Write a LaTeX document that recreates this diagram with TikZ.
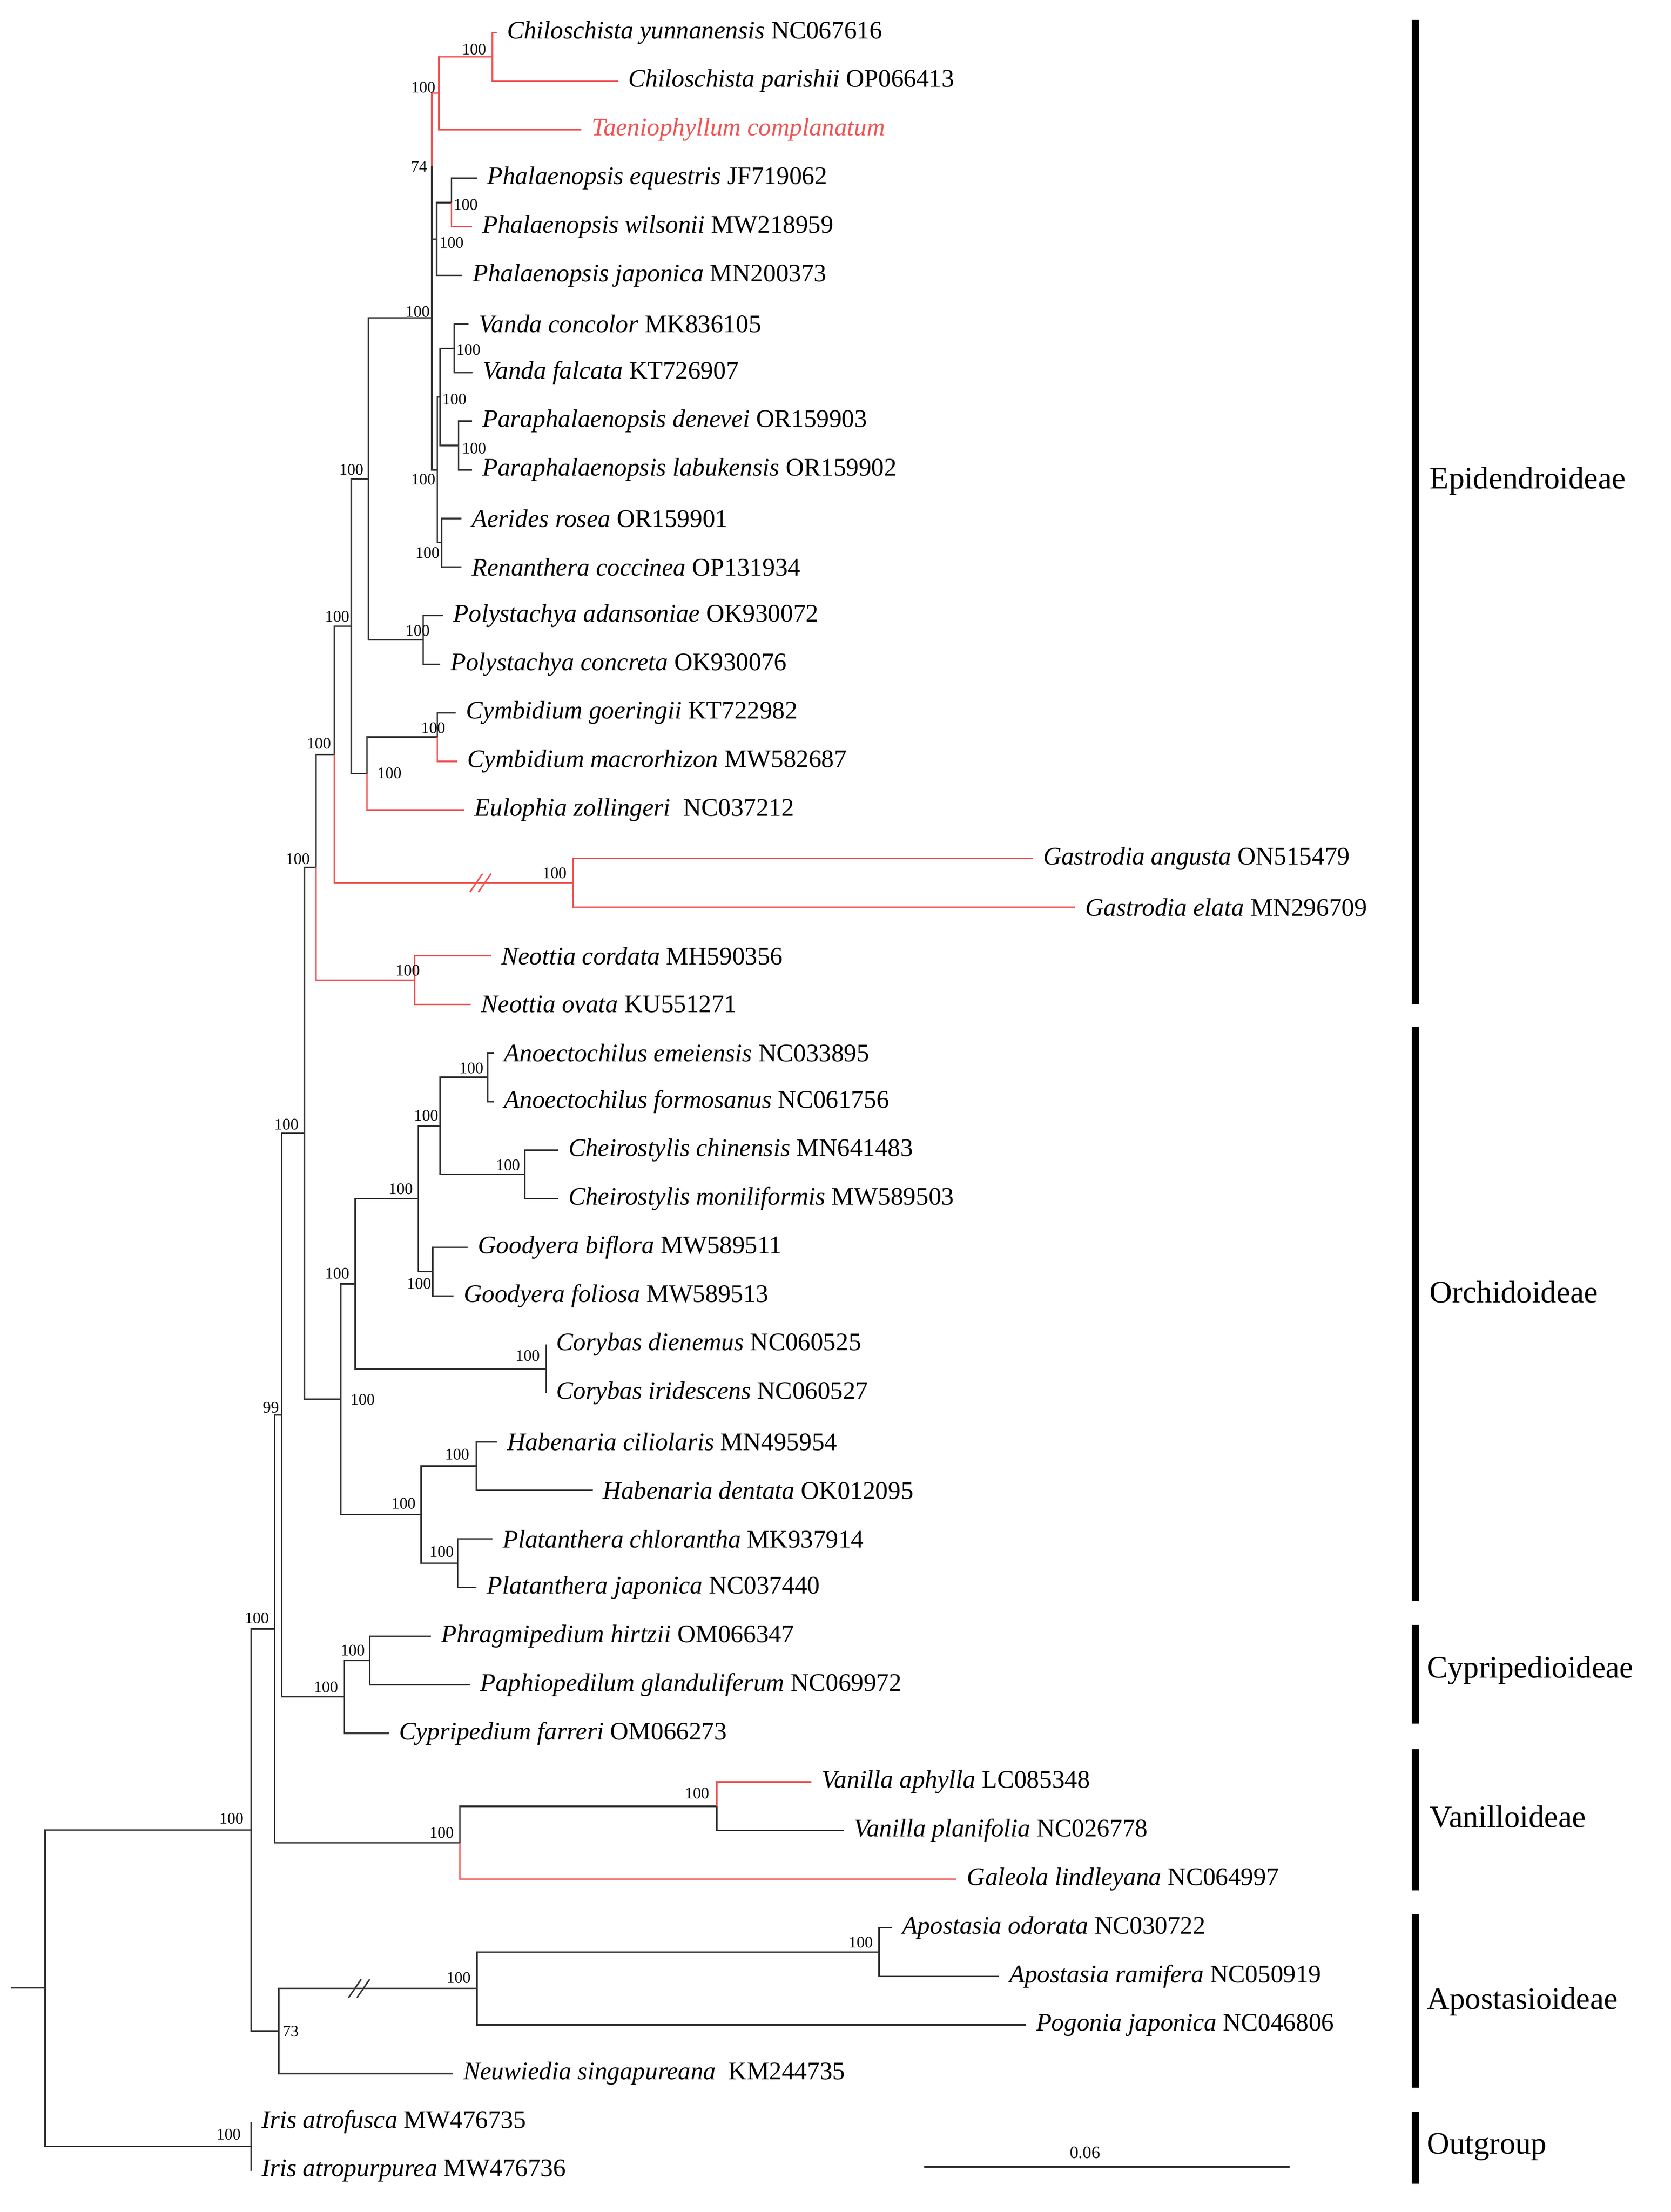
\documentclass[tikz,border=0pt]{standalone}
\usepackage{fontspec}
\setmainfont{Liberation Serif}
\usepackage{tikz}
\definecolor{hilite}{rgb}{0.94,0.33,0.33}
\tikzstyle{branch} = [line width=0.6pt, black!80]
\tikzstyle{hot} = [line width=0.6pt, hilite]
\tikzstyle{taxon} = [anchor=west, inner xsep=0.14cm, inner ysep=0pt, font=\fontsize{10.2}{12}\selectfont]
\tikzstyle{boot} = [inner sep=0pt, font=\fontsize{6.5}{7}\selectfont]
\tikzstyle{cladebar} = [line width=2.8pt, black]
\tikzstyle{clade} = [anchor=west, inner sep=0pt, font=\fontsize{12.6}{14}\selectfont]

\begin{document}
\begin{tikzpicture}[x=0.02cm, y=-0.689cm]
\useasboundingbox (0,-0.668) rectangle (1184,44.85);

% inner nodes
\coordinate (stub) at (7.7,40.24);
\coordinate (root) at (32,40.24);
\coordinate (N178) at (178,36.99);
\coordinate (IR) at (178,43.5);
\coordinate (N194) at (194.6,32.85);
\coordinate (N73) at (197.5,41.125);
\coordinate (N99) at (199.5,28.45);
\coordinate (EO) at (215.7,22.65);
\coordinate (N224) at (224,17.18);
\coordinate (N237) at (237,14.86);
\coordinate (N249) at (249,12.22);
\coordinate (N261) at (261,9.19);
\coordinate (TOP) at (306,5.875);
\coordinate (N74) at (306,2.75);
\coordinate (CT) at (311,1.25);
\coordinate (C) at (349,0.5);
\coordinate (PH) at (309.5,4.25);
\coordinate (PEW) at (320,3.5);
\coordinate (VPAR) at (310,9);
\coordinate (VP) at (312,7.5);
\coordinate (VA) at (322,6.5);
\coordinate (PA) at (325,8.5);
\coordinate (AR) at (313,10.5);
\coordinate (PO) at (300,12.5);
\coordinate (CE) at (260,15.25);
\coordinate (CY) at (310,14.5);
\coordinate (GA) at (406,17.5);
\coordinate (NE) at (294,19.5);
\coordinate (ORC) at (241.4,28.125);
\coordinate (ACGC) at (251.8,25.75);
\coordinate (ACG) at (296.4,24);
\coordinate (AC) at (312,22.5);
\coordinate (AN) at (345.6,21.5);
\coordinate (CH) at (372,23.5);
\coordinate (GO) at (306.7,25.5);
\coordinate (CO) at (387,27.5);
\coordinate (HP) at (298.5,30.5);
\coordinate (HA) at (337.5,29.5);
\coordinate (PL) at (324.3,31.5);
\coordinate (CPA) at (244,34.25);
\coordinate (CP) at (262,33.5);
\coordinate (VG) at (326,37.25);
\coordinate (VN) at (508,36.5);
\coordinate (APO) at (338,40.25);
\coordinate (AP) at (623,39.5);
\coordinate (gbreak) at (340,17.5);
\coordinate (abreak) at (254,40.25);

% taxa
\node (t0) [taxon] at (352,0) {\textit{Chiloschista yunnanensis} NC067616};
\node (t1) [taxon] at (438,1) {\textit{Chiloschista parishii} OP066413};
\node (t2) [taxon, text=hilite] at (412,2) {\textit{Taeniophyllum complanatum}};
\node (t3) [taxon] at (338,3) {\textit{Phalaenopsis equestris} JF719062};
\node (t4) [taxon] at (334.5,4) {\textit{Phalaenopsis wilsonii} MW218959};
\node (t5) [taxon] at (327.6,5) {\textit{Phalaenopsis japonica} MN200373};
\node (t6) [taxon] at (332,6) {\textit{Vanda concolor} MK836105};
\node (t7) [taxon] at (335,7) {\textit{Vanda falcata} KT726907};
\node (t8) [taxon] at (334.5,8) {\textit{Paraphalaenopsis denevei} OR159903};
\node (t9) [taxon] at (334.5,9) {\textit{Paraphalaenopsis labukensis} OR159902};
\node (t10) [taxon] at (327,10) {\textit{Aerides rosea} OR159901};
\node (t11) [taxon] at (327,11) {\textit{Renanthera coccinea} OP131934};
\node (t12) [taxon] at (314,12) {\textit{Polystachya adansoniae} OK930072};
\node (t13) [taxon] at (312,13) {\textit{Polystachya concreta} OK930076};
\node (t14) [taxon] at (323,14) {\textit{Cymbidium goeringii} KT722982};
\node (t15) [taxon] at (324,15) {\textit{Cymbidium macrorhizon} MW582687};
\node (t16) [taxon] at (329,16) {\textit{Eulophia zollingeri}\ \ NC037212};
\node (t17) [taxon] at (732,17) {\textit{Gastrodia angusta} ON515479};
\node (t18) [taxon] at (762,18) {\textit{Gastrodia elata} MN296709};
\node (t19) [taxon] at (348,19) {\textit{Neottia cordata} MH590356};
\node (t20) [taxon] at (333.7,20) {\textit{Neottia ovata} KU551271};
\node (t21) [taxon] at (350,21) {\textit{Anoectochilus emeiensis} NC033895};
\node (t22) [taxon] at (350,22) {\textit{Anoectochilus formosanus} NC061756};
\node (t23) [taxon] at (395.6,23) {\textit{Cheirostylis chinensis} MN641483};
\node (t24) [taxon] at (395.6,24) {\textit{Cheirostylis moniliformis} MW589503};
\node (t25) [taxon] at (331.5,25) {\textit{Goodyera biflora} MW589511};
\node (t26) [taxon] at (321.4,26) {\textit{Goodyera foliosa} MW589513};
\node (t27) [taxon] at (387,27) {\textit{Corybas dienemus} NC060525};
\node (t28) [taxon] at (387,28) {\textit{Corybas iridescens} NC060527};
\node (t29) [taxon] at (352,29) {\textit{Habenaria ciliolaris} MN495954};
\node (t30) [taxon] at (420,30) {\textit{Habenaria dentata} OK012095};
\node (t31) [taxon] at (349,31) {\textit{Platanthera chlorantha} MK937914};
\node (t32) [taxon] at (337.8,32) {\textit{Platanthera japonica} NC037440};
\node (t33) [taxon] at (305.5,33) {\textit{Phragmipedium hirtzii} OM066347};
\node (t34) [taxon] at (333,34) {\textit{Paphiopedilum glanduliferum} NC069972};
\node (t35) [taxon] at (275.5,35) {\textit{Cypripedium farreri} OM066273};
\node (t36) [taxon] at (575,36) {\textit{Vanilla aphylla} LC085348};
\node (t37) [taxon] at (598,37) {\textit{Vanilla planifolia} NC026778};
\node (t38) [taxon] at (678,38) {\textit{Galeola lindleyana} NC064997};
\node (t39) [taxon] at (632,39) {\textit{Apostasia odorata} NC030722};
\node (t40) [taxon] at (708,40) {\textit{Apostasia ramifera} NC050919};
\node (t41) [taxon] at (727,41) {\textit{Pogonia japonica} NC046806};
\node (t42) [taxon] at (321,42) {\textit{Neuwiedia singapureana}\ \ KM244735};
\node (t43) [taxon] at (178,43) {\textit{Iris atrofusca} MW476735};
\node (t44) [taxon] at (178,44) {\textit{Iris atropurpurea} MW476736};

% backbone
\draw [branch] (stub) -- (root);
\draw [branch] (root) |- (N178);
\draw [branch] (root) |- (IR);
\draw [branch] (N178) |- (N194);
\draw [branch] (N178) |- (N73);
\draw [branch] (N194) |- (N99);
\draw [branch] (N194) |- (VG);
\draw [branch] (N99) |- (EO);
\draw [branch] (N99) |- (CPA);
\draw [branch] (EO) |- (N224);
\draw [branch] (EO) |- (ORC);
% Epidendroideae
\draw [branch] (N224) |- (N237);
\draw [hot] (N224) |- (NE);
\draw [branch] (N237) |- (N249);
\draw [hot] (N237) |- (GA);
\draw [branch] (N249) |- (N261);
\draw [branch] (N249) |- (CE);
\draw [branch] (N261) |- (TOP);
\draw [branch] (N261) |- (PO);
\draw [branch] (TOP) |- (N74);
\draw [branch] (TOP) |- (VPAR);
\draw [hot] (N74) |- (CT);
\draw [branch] (N74) |- (PH);
\draw [hot] (CT) |- (C);
\draw [hot] (CT) |- (t2.west);
\draw [hot] (C) |- (t0.west);
\draw [hot] (C) |- (t1.west);
\draw [branch] (PH) |- (PEW);
\draw [branch] (PH) |- (t5.west);
\draw [branch] (PEW) |- (t3.west);
\draw [hot] (PEW) |- (t4.west);
\draw [branch] (VPAR) |- (VP);
\draw [branch] (VPAR) |- (AR);
\draw [branch] (VP) |- (VA);
\draw [branch] (VP) |- (PA);
\draw [branch] (VA) |- (t6.west);
\draw [branch] (VA) |- (t7.west);
\draw [branch] (PA) |- (t8.west);
\draw [branch] (PA) |- (t9.west);
\draw [branch] (AR) |- (t10.west);
\draw [branch] (AR) |- (t11.west);
\draw [branch] (PO) |- (t12.west);
\draw [branch] (PO) |- (t13.west);
\draw [branch] (CE) |- (CY);
\draw [hot] (CE) |- (t16.west);
\draw [branch] (CY) |- (t14.west);
\draw [hot] (CY) |- (t15.west);
\draw [hot] (GA) |- (t17.west);
\draw [hot] (GA) |- (t18.west);
\draw [hot] (NE) |- (t19.west);
\draw [hot] (NE) |- (t20.west);
\draw [hot] (gbreak) ++(-7,0.19) -- ++(9,-0.38);
\draw [hot] (gbreak) ++(-1,0.19) -- ++(9,-0.38);
% Orchidoideae
\draw [branch] (ORC) |- (ACGC);
\draw [branch] (ORC) |- (HP);
\draw [branch] (ACGC) |- (ACG);
\draw [branch] (ACGC) |- (CO);
\draw [branch] (ACG) |- (AC);
\draw [branch] (ACG) |- (GO);
\draw [branch] (AC) |- (AN);
\draw [branch] (AC) |- (CH);
\draw [branch] (AN) |- (t21.west);
\draw [branch] (AN) |- (t22.west);
\draw [branch] (CH) |- (t23.west);
\draw [branch] (CH) |- (t24.west);
\draw [branch] (GO) |- (t25.west);
\draw [branch] (GO) |- (t26.west);
\draw [branch] (CO) |- (t27.west);
\draw [branch] (CO) |- (t28.west);
\draw [branch] (HP) |- (HA);
\draw [branch] (HP) |- (PL);
\draw [branch] (HA) |- (t29.west);
\draw [branch] (HA) |- (t30.west);
\draw [branch] (PL) |- (t31.west);
\draw [branch] (PL) |- (t32.west);
% Cypripedioideae, Vanilloideae
\draw [branch] (CPA) |- (CP);
\draw [branch] (CPA) |- (t35.west);
\draw [branch] (CP) |- (t33.west);
\draw [branch] (CP) |- (t34.west);
\draw [branch] (VG) |- (VN);
\draw [hot] (VG) |- (t38.west);
\draw [hot] (VN) |- (t36.west);
\draw [branch] (VN) |- (t37.west);
% Apostasioideae, outgroup
\draw [branch] (N73) |- (APO);
\draw [branch] (N73) |- (t42.west);
\draw [branch] (APO) |- (AP);
\draw [branch] (APO) |- (t41.west);
\draw [branch] (AP) |- (t39.west);
\draw [branch] (AP) |- (t40.west);
\draw [branch] (abreak) ++(-7,0.19) -- ++(9,-0.38);
\draw [branch] (abreak) ++(-1,0.19) -- ++(9,-0.38);
\draw [branch] (IR) |- (t43.west);
\draw [branch] (IR) |- (t44.west);

% support values
\node [boot] at (336,0.35) {100};
\node [boot] at (300,1.13) {100};
\node [boot] at (297,2.76) {74};
\node [boot] at (330,3.54) {100};
\node [boot] at (320,4.33) {100};
\node [boot] at (296,5.75) {100};
\node [boot] at (332,6.53) {100};
\node [boot] at (322,7.55) {100};
\node [boot] at (336,8.56) {100};
\node [boot] at (300,9.2) {100};
\node [boot] at (303,10.71) {100};
\node [boot] at (249,9.0) {100};
\node [boot] at (296,12.31) {100};
\node [boot] at (239,12.02) {100};
\node [boot] at (307,14.31) {100};
\node [boot] at (276,15.24) {100};
\node [boot] at (226,14.63) {100};
\node [boot] at (393,17.3) {100};
\node [boot] at (211,17.01) {100};
\node [boot] at (289,19.3) {100};
\node [boot] at (203,22.47) {100};
\node [boot] at (334,21.31) {100};
\node [boot] at (302,22.29) {100};
\node [boot] at (360,23.31) {100};
\node [boot] at (284,23.8) {100};
\node [boot] at (297,25.75) {100};
\node [boot] at (239,25.54) {100};
\node [boot] at (374,27.23) {100};
\node [boot] at (257,28.13) {100};
\node [boot] at (324,29.26) {100};
\node [boot] at (286,30.27) {100};
\node [boot] at (313,31.26) {100};
\node [boot] at (192,28.3) {99};
\node [boot] at (250,33.29) {100};
\node [boot] at (231,34.05) {100};
\node [boot] at (182,32.63) {100};
\node [boot] at (494,36.23) {100};
\node [boot] at (313,37.04) {100};
\node [boot] at (164,36.75) {100};
\node [boot] at (610,39.3) {100};
\node [boot] at (325,40.03) {100};
\node [boot] at (206,41.13) {73};
\node [boot] at (162,43.25) {100};

% subfamilies
\coordinate (epiA) at (1003,-0.26);  \coordinate (epiB) at (1003,20.0);
\coordinate (orcA) at (1003,20.46);  \coordinate (orcB) at (1003,32.28);
\coordinate (cypA) at (1003,32.77);  \coordinate (cypB) at (1003,34.8);
\coordinate (vanA) at (1003,35.33);  \coordinate (vanB) at (1003,38.23);
\coordinate (apoA) at (1003,38.72);  \coordinate (apoB) at (1003,42.29);
\coordinate (outA) at (1003,42.79);  \coordinate (outB) at (1003,44.27);
\draw [cladebar] (epiA) -- (epiB);
\draw [cladebar] (orcA) -- (orcB);
\draw [cladebar] (cypA) -- (cypB);
\draw [cladebar] (vanA) -- (vanB);
\draw [cladebar] (apoA) -- (apoB);
\draw [cladebar] (outA) -- (outB);
\node (epi) [clade] at (1013,9.23) {Epidendroideae};
\node (orc) [clade] at (1013,25.92) {Orchidoideae};
\node (cyp) [clade] at (1011,33.7) {Cypripedioideae};
\node (van) [clade] at (1013,36.72) {Vanilloideae};
\node (apo) [clade] at (1011,40.52) {Apostasioideae};
\node (out) [clade] at (1011,43.51) {Outgroup};

% scale bar
\coordinate (sbA) at (655,43.92);
\coordinate (sbB) at (914,43.92);
\draw [branch] (sbA) -- (sbB);
\node (sb) [boot, font=\fontsize{7}{8}\selectfont] at (769,43.63) {0.06};
\end{tikzpicture}
\end{document}
